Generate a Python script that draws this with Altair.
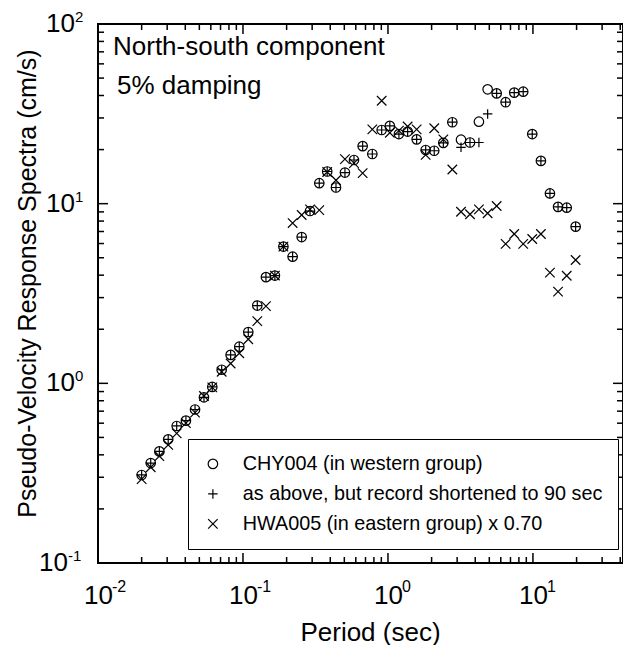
import altair as alt
import pandas as pd

# ---------------- data ----------------
periods = [0.02, 0.0231, 0.0265, 0.0305, 0.0349, 0.0404, 0.0467, 0.0538, 0.0614, 0.0713,
           0.0822, 0.0943, 0.1088, 0.1255, 0.144, 0.166, 0.19, 0.22, 0.254, 0.29,
           0.336, 0.381, 0.438, 0.505, 0.583, 0.669, 0.78, 0.905, 1.03, 1.19,
           1.367, 1.577, 1.82, 2.085, 2.41, 2.78, 3.19, 3.68, 4.24, 4.87,
           5.62, 6.48, 7.43, 8.57, 9.89, 11.35, 13.1, 14.9, 17.1, 19.7]

chy004 = [0.309, 0.36, 0.418, 0.488, 0.579, 0.62, 0.715, 0.836, 0.955, 1.19,
          1.44, 1.60, 1.93, 2.71, 3.90, 3.98, 5.77, 5.07, 6.52, 9.1,
          13.0, 15.1, 12.3, 14.9, 17.5, 20.9, 18.9, 25.7, 27.1, 24.4,
          25.2, 22.8, 19.9, 19.7, 21.8, 28.4, 22.7, 21.9, 28.6, 43.3,
          41.1, 36.7, 41.5, 42.0, 24.4, 17.3, 11.4, 9.6, 9.5, 7.45]

chy004_shortened = [0.309, 0.36, 0.418, 0.488, 0.579, 0.62, 0.715, 0.836, 0.955, 1.19,
                    1.44, 1.60, 1.93, 2.71, 3.90, 3.98, 5.77, 5.07, 6.52, 9.1,
                    13.0, 15.1, 12.3, 14.9, 17.5, 20.9, 18.9, 25.7, 27.1, 24.4,
                    25.2, 22.8, 19.9, 19.7, 21.8, 28.4, 20.6, 21.9, 21.9, 31.6,
                    41.1, 36.7, 41.5, 42.0, 24.4, 17.3, 11.4, 9.6, 9.5, 7.45]

hwa005_x070 = [0.293, 0.341, 0.393, 0.454, 0.527, 0.60, 0.687, 0.85, 0.95, 1.16,
               1.29, 1.47, 1.76, 2.22, 2.69, 3.98, 5.77, 7.8, 8.65, 9.3,
               9.2, 15.0, 13.5, 17.7, 16.8, 14.8, 25.9, 37.4, 24.8, 25.5,
               26.9, 25.9, 18.7, 26.3, 22.8, 15.5, 9.02, 8.73, 9.3, 8.84,
               9.71, 5.97, 6.78, 5.97, 6.36, 6.78, 4.13, 3.24, 3.97, 4.86]

series_names = ["CHY004 (in western group)",
                "as above, but record shortened to 90 sec",
                "HWA005 (in eastern group) x 0.70"]

x_major = [0.01, 0.1, 1, 10]
x_exponents = ["-2", "-1", "0", "1"]
x_minor = [k * d for d in [0.01, 0.1, 1, 10] for k in range(2, 10) if k * d <= 41]

y_major = [0.1, 1, 10, 100]
y_exponents = ["-1", "0", "1", "2"]
y_minor = [k * d for d in [0.1, 1, 10] for k in range(2, 10)]

notes = ["North-south component", "5% damping"]

# ---------------- build tables ----------------
rows = []
for name, vals in zip(series_names, [chy004, chy004_shortened, hwa005_x070]):
    for p, v in zip(periods, vals):
        rows.append({"period": p, "psv": v, "series": name})
df = pd.DataFrame(rows)

W, H = 525, 539
FONT = "Liberation Sans"
MAJ, MIN = 10, 6

xscale = alt.Scale(type="log", domain=[0.01, 41.8], nice=False)
yscale = alt.Scale(type="log", domain=[0.1, 100], nice=False)

x_axis = alt.Axis(values=x_major, labelExpr="'10'", ticks=False, tickSize=0,
                  domain=False, grid=False, labelFontSize=26, labelFont=FONT,
                  labelColor="black", labelPadding=40, labelBaseline="alphabetic",
                  labelAlign="center", labelFlush=False,
                  title="Period (sec)", titleFontSize=26, titleFont=FONT,
                  titleFontWeight="normal", titleColor="black",
                  titleX=272, titleY=77, titleBaseline="alphabetic",
                  titleAlign="center")
y_axis = alt.Axis(values=y_major, labels=False, ticks=False, tickSize=0,
                  domain=False, grid=False,
                  title="Pseudo-Velocity Response Spectra (cm/s)", titleFontSize=25,
                  titleFont=FONT, titleFontWeight="normal", titleColor="black",
                  titleAngle=270, titleX=-63, titleY=259,
                  titleBaseline="alphabetic", titleAlign="center")

PLUS = "M-1,0H1M0,-1V1"
CROSS = "M-1,-1L1,1M-1,1L1,-1"

points = alt.Chart(df).mark_point(
    filled=False, color="black", strokeWidth=1.2, opacity=1, size=90
).encode(
    x=alt.X("period:Q", scale=xscale, axis=x_axis),
    y=alt.Y("psv:Q", scale=yscale, axis=y_axis),
    shape=alt.Shape("series:N",
                    scale=alt.Scale(domain=series_names, range=["circle", PLUS, CROSS]),
                    legend=alt.Legend(title=None, orient="none", legendX=90, legendY=415,
                                      strokeColor="black", padding=15, fillColor="white",
                                      labelFontSize=19.8, labelFont=FONT, labelColor="black",
                                      labelOffset=20, labelLimit=600, rowPadding=9,
                                      symbolSize=90, symbolStrokeWidth=1.2,
                                      symbolStrokeColor="black", symbolFillColor="transparent",
                                      symbolOpacity=1)),
)


def tick_df(vals):
    return pd.DataFrame({"v": vals})


def xticks(vals, length):
    base = alt.Chart(tick_df(vals)).mark_rule(color="black", strokeWidth=1.5)
    bottom = base.encode(x=alt.X("v:Q", scale=xscale, axis=x_axis),
                         y=alt.value(H), y2=alt.value(H - length))
    top = base.encode(x=alt.X("v:Q", scale=xscale, axis=x_axis),
                      y=alt.value(0), y2=alt.value(length))
    return [bottom, top]


def yticks(vals, length):
    base = alt.Chart(tick_df(vals)).mark_rule(color="black", strokeWidth=1.5)
    left = base.encode(y=alt.Y("v:Q", scale=yscale, axis=y_axis),
                       x=alt.value(0), x2=alt.value(length))
    right = base.encode(y=alt.Y("v:Q", scale=yscale, axis=y_axis),
                        x=alt.value(W), x2=alt.value(W - length))
    return [left, right]


tick_layers = xticks(x_major, MAJ) + xticks(x_minor, MIN) + yticks(y_major, MAJ) + yticks(y_minor, MIN)

x_exp = alt.Chart(pd.DataFrame({"v": x_major, "e": x_exponents})).mark_text(
    align="left", baseline="alphabetic", fontSize=16, font=FONT, color="black", dx=14
).encode(x=alt.X("v:Q", scale=xscale, axis=x_axis), y=alt.value(H + 29), text="e:N")

# y tick labels: "10" plus a raised exponent, right-aligned against the axis
ylab_df = pd.DataFrame({"v": y_major, "e": y_exponents, "b": ["10"] * len(y_major)})
ylab_base = alt.Chart(ylab_df)
y_layers = []
for cond, xpos in [("datum.e != '-1'", -23), ("datum.e == '-1'", -30)]:
    y_layers.append(
        ylab_base.transform_filter(cond).mark_text(
            align="right", baseline="middle", fontSize=26, font=FONT, color="black"
        ).encode(y=alt.Y("v:Q", scale=yscale, axis=y_axis), x=alt.value(xpos), text="b:N")
    )
    y_layers.append(
        ylab_base.transform_filter(cond).mark_text(
            align="left", baseline="alphabetic", fontSize=15, font=FONT, color="black", dy=-2
        ).encode(y=alt.Y("v:Q", scale=yscale, axis=y_axis), x=alt.value(xpos), text="e:N")
    )

note1 = alt.Chart(pd.DataFrame({"t": [notes[0]]})).mark_text(
    align="left", baseline="alphabetic", fontSize=26, font=FONT, color="black"
).encode(x=alt.value(15), y=alt.value(31), text="t:N")
note2 = alt.Chart(pd.DataFrame({"t": [notes[1]]})).mark_text(
    align="left", baseline="alphabetic", fontSize=26, font=FONT, color="black"
).encode(x=alt.value(19), y=alt.value(70), text="t:N")

chart = alt.layer(
    points, *tick_layers, x_exp, *y_layers, note1, note2
).properties(
    width=W, height=H,
    autosize=alt.AutoSizeParams(type="none"),
    padding={"left": 90, "top": 16, "right": 0, "bottom": 82},
    background="white",
).configure_view(stroke="black", strokeWidth=2)

chart.save("out.html", embed_options={"renderer": "svg", "actions": False})
